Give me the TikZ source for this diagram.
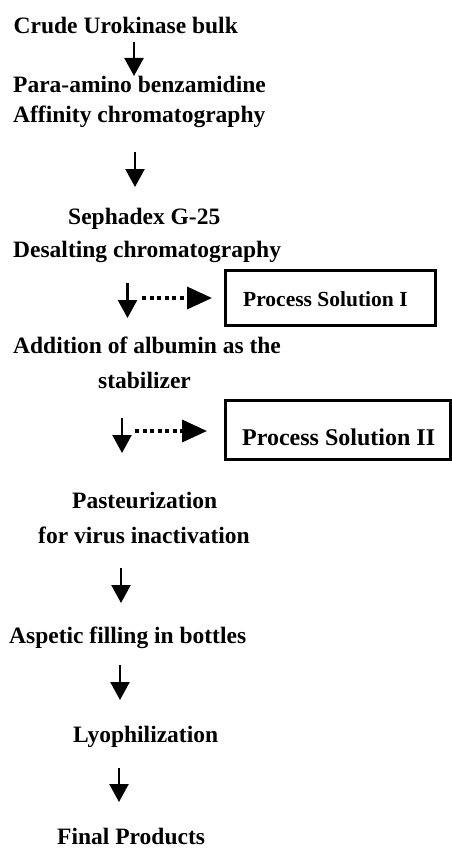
\documentclass[tikz,border=0pt]{standalone}
\usepackage{fontspec}
\setmainfont{Liberation Serif}
\usetikzlibrary{arrows.meta}
\begin{document}
\begin{tikzpicture}[x=1pt,y=-1pt,
  lbl/.style={inner sep=0pt,anchor=base west,font=\fontsize{23.5}{27}\selectfont\bfseries},
  boxlbl/.style={inner sep=0pt,anchor=base west,font=\fontsize{#1}{26}\selectfont\bfseries},
  flow/.style={line width=2.4pt,-{Triangle[width=19pt,length=18pt]}},
  dotflow/.style={line width=3.5pt,dash pattern=on 4pt off 3.5pt,-{Triangle[width=22pt,length=25pt]}},
  procbox/.style={draw,line width=3pt,inner sep=0pt}]
\useasboundingbox (0,0) rectangle (452,848);
\fill[white] (0,0) rectangle (452,848);
% texts
\node[lbl] (crude) at (13.5,33.5) {Crude Urokinase bulk};
\node[lbl] (para) at (13,93) {Para-amino benzamidine};
\node[lbl] (affin) at (13,122.5) {Affinity chromatography};
\node[lbl] (seph) at (68,224) {Sephadex G-25};
\node[lbl] (desalt) at (13,257) {Desalting chromatography};
\node[lbl] (addi) at (13,353.5) {Addition of albumin as the};
\node[lbl] (stab) at (98,388) {stabilizer};
\node[lbl] (past) at (72,508) {Pasteurization};
\node[lbl] (virus) at (38,543) {for virus inactivation};
\node[lbl] (asep) at (9,643) {Aspetic filling in bottles};
\node[lbl] (lyo) at (73,742.5) {Lyophilization};
\node[lbl] (final) at (57,844.5) {Final Products};
% boxes
\node[procbox,minimum width=210pt,minimum height=55pt] (b1) at (330,297.5) {};
\node[boxlbl=21.5] (t1) at (243,306) {Process Solution I};
\node[procbox,minimum width=225.5pt,minimum height=59pt] (b2) at (337.75,429.5) {};
\node[boxlbl=24] (t2) at (242,445) {Process Solution II};
% arrow coordinates
\coordinate (a1s) at (134,42);   \coordinate (a1e) at (134,76);
\coordinate (a2s) at (135,152);  \coordinate (a2e) at (135,187);
\coordinate (a3s) at (127.5,283);\coordinate (a3e) at (127.5,318);
\coordinate (a4s) at (122,418);  \coordinate (a4e) at (122,453);
\coordinate (a5s) at (121,568);  \coordinate (a5e) at (121,603);
\coordinate (a6s) at (120,665);  \coordinate (a6e) at (120,700);
\coordinate (a7s) at (119,768);  \coordinate (a7e) at (119,802);
\coordinate (d1s) at (142,298);  \coordinate (d1e) at (212,298);
\coordinate (d2s) at (135,431);  \coordinate (d2e) at (207,431);
\draw[flow] (a1s) -- (a1e);
\draw[flow] (a2s) -- (a2e);
\draw[flow] (a3s) -- (a3e);
\draw[flow] (a4s) -- (a4e);
\draw[flow] (a5s) -- (a5e);
\draw[flow] (a6s) -- (a6e);
\draw[flow] (a7s) -- (a7e);
\draw[dotflow] (d1s) -- (d1e);
\draw[dotflow] (d2s) -- (d2e);
\end{tikzpicture}
\end{document}
